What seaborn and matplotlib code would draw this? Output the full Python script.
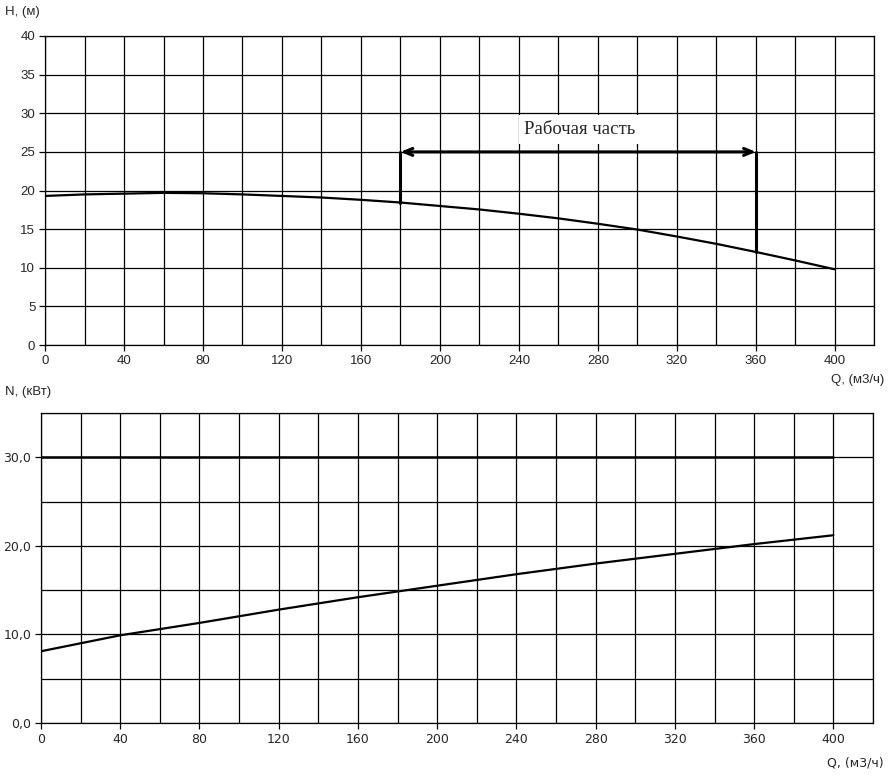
import numpy as np
import pandas as pd
import matplotlib.pyplot as plt
import seaborn as sns

sns.set_style("white")
plt.rcParams['font.family'] = ['Liberation Sans', 'DejaVu Sans']

# Напорная характеристика H(Q)
q_h = [0, 20, 40, 60, 80, 100, 120, 140, 160, 180, 200, 220, 240, 260, 280, 300, 320, 340, 360, 380, 400]
h = [19.3, 19.5, 19.6, 19.7, 19.65, 19.5, 19.3, 19.1, 18.8, 18.45, 18.0, 17.55, 17.0, 16.4, 15.7, 14.95, 14.05, 13.1, 12.05, 10.95, 9.8]

# Мощность N(Q)
q_n = [0, 40, 80, 120, 160, 200, 240, 280, 320, 360, 400]
n = [8.1, 9.9, 11.3, 12.8, 14.2, 15.5, 16.8, 18.0, 19.1, 20.2, 21.2]
n_max = [30.0] * len(q_n)

# рабочая часть
work_q = [180, 360]
work_h = 25
work_label = "Рабочая часть"

df_h = pd.DataFrame({"Q": q_h, "H": h})
df_n = pd.DataFrame({"Q": q_n, "N": n, "Nmax": n_max})

fig = plt.figure(figsize=(8.95, 7.79), dpi=100)
ax1 = fig.add_axes([0.0503, 0.557, 0.9267, 0.3968])
ax2 = fig.add_axes([0.0458, 0.0719, 0.9296, 0.3979])


def style_axis(ax, ymax, ystep, ylabel_step, fmt):
    ax.set_xlim(0, 420)
    ax.set_ylim(0, ymax)
    ax.set_xticks(range(0, 401, 40))
    ax.set_xticks(range(0, 421, 20), minor=True)
    ax.set_yticks(np.arange(0, ymax + 0.1, ylabel_step))
    ax.set_yticks(np.arange(0, ymax + 0.1, ystep), minor=True)
    ax.yaxis.set_major_formatter(plt.FuncFormatter(fmt))
    ax.grid(True, which="both", color="black", linewidth=0.9)
    ax.tick_params(which="major", direction="out", length=4, width=0.9, color="black",
                   labelsize=9.5, bottom=True, left=True, pad=3)
    ax.tick_params(which="minor", length=0)
    for s in ax.spines.values():
        s.set_color("black")
        s.set_linewidth(0.9)
    ax.set_xlabel("")
    ax.set_ylabel("")


sns.lineplot(data=df_h, x="Q", y="H", ax=ax1, color="black", linewidth=1.6)
style_axis(ax1, 40, 5, 5, lambda v, p: f"{v:.0f}")

# рабочая часть
h180 = np.interp(work_q[0], q_h, h)
h360 = np.interp(work_q[1], q_h, h)
ax1.plot([work_q[0], work_q[0]], [h180, work_h], color="black", linewidth=2.2)
ax1.plot([work_q[1], work_q[1]], [h360, work_h], color="black", linewidth=2.2)
ax1.annotate("", xy=(work_q[0], work_h), xytext=(work_q[1], work_h),
             arrowprops=dict(arrowstyle="<->,head_length=0.6,head_width=0.25", color="black",
                             lw=2.2, shrinkA=0, shrinkB=0))
ax1.text(271, 27.9, work_label, ha="center", va="center", fontsize=13.5,
         family="Liberation Serif", zorder=5,
         bbox=dict(boxstyle="square,pad=0.3", facecolor="white", edgecolor="none"))

sns.lineplot(data=df_n, x="Q", y="N", ax=ax2, color="black", linewidth=1.6)
sns.lineplot(data=df_n, x="Q", y="Nmax", ax=ax2, color="black", linewidth=1.8)
style_axis(ax2, 35, 5, 10, lambda v, p: f"{v:.1f}".replace(".", ","))
for lab in ax2.get_xticklabels() + ax2.get_yticklabels():
    lab.set_family("DejaVu Sans")
    lab.set_fontsize(9)

fig.text(5 / 895, 1 - 12 / 779, "H, (м)", fontsize=9.5, ha="left", va="center")
fig.text(884 / 895, 1 - 380 / 779, "Q, (м3/ч)", fontsize=9.5, ha="right", va="center")
fig.text(5 / 895, 1 - 392 / 779, "N, (кВт)", fontsize=9.5, ha="left", va="center")
fig.text(884 / 895, 1 - 763 / 779, "Q, (м3/ч)", fontsize=9, ha="right", va="center",
         family="DejaVu Sans")

fig.savefig("out.png", dpi=100)
